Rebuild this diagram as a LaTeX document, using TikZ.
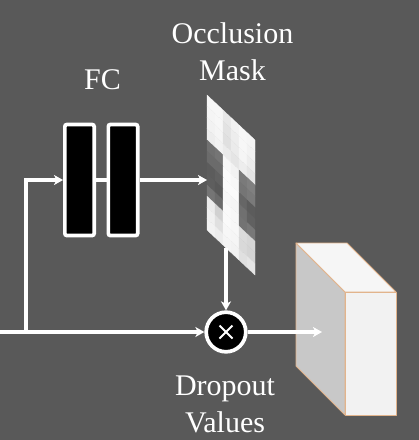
\documentclass[tikz,border=0pt]{standalone}
\usepackage{fontspec}
\setmainfont{Liberation Serif}
\usetikzlibrary{arrows.meta}
\definecolor{bg}{RGB}{89,89,89}
\definecolor{cubeedge}{RGB}{226,180,140}
\definecolor{cubefront}{RGB}{242,242,242}
\definecolor{cubetop}{RGB}{246,246,246}
\definecolor{cubeside}{RGB}{200,200,200}
\tikzset{
  wire/.style={draw=white, line width=3.3pt},
  arr/.style={-{Stealth[length=9pt,width=10pt,inset=2.5pt]}},
  fcbox/.style={draw=white, fill=black, line width=3.7pt, rounded corners=2pt,
    minimum width=29.3pt, minimum height=111pt, inner sep=0pt},
  lbl/.style={text=white, font=\fontsize{30}{37}\selectfont, anchor=base, inner sep=0pt},
  cubeface/.style={draw=cubeedge, line width=0.8pt, line join=round}
}
\begin{document}
\begin{tikzpicture}[x=1pt,y=-1pt]
\useasboundingbox (0,0) rectangle (419,440);
\fill[bg] (0,0) rectangle (419,440);

% occlusion mask
\foreach \j/\row in {
  0/{97,97,91,95,97,96},
  1/{96,97,89,93,97,95},
  2/{95,96,88,92,96,93},
  3/{93,95,92,90,93,90},
  4/{44,46,97,95,48,50},
  5/{42,42,98,97,46,48},
  6/{36,38,98,98,40,36},
  7/{37,35,97,96,44,38},
  8/{46,42,98,97,45,47},
  9/{92,82,98,97,86,84},
  10/{94,88,97,96,85,83},
  11/{95,93,96,95,88,90}}{
  \foreach \v [count=\i from 0] in \row {
    \filldraw[fill=white!\v!black, draw=white!\v!black, line width=0.3pt]
      ({207+8*\i},{95+11.25*\j+7.5*\i}) -- ++(8,7.5) -- ++(0,11.25) -- ++(-8,-7.5) -- cycle;
  }
}
\coordinate (maskin) at (207,180);
\coordinate (maskout) at (226,247.8);

% FC layers
\node[fcbox] (fc1) at (79.5,180) {};
\node[fcbox] (fc2) at (123,180) {};

% multiply node
\node[circle, draw=white, fill=black, line width=3.7pt, minimum size=39.6pt, inner sep=0pt] (mul) at (226,332) {};
\draw[white, line width=2pt] (mul.center) ++(-6.5,-6.5) -- ++(13,13);
\draw[white, line width=2pt] (mul.center) ++(6.5,-6.5) -- ++(-13,13);

% cube
\filldraw[cubeface, fill=cubeside] (296,243) -- (345,292) -- (345,415) -- (296,366) -- cycle;
\filldraw[cubeface, fill=cubetop] (296,243) -- (347,243) -- (396,292) -- (345,292) -- cycle;
\filldraw[cubeface, fill=cubefront] (345,292) rectangle (396,415);
\coordinate (cubein) at (322,332);

% connectors
\coordinate (in) at (0,332);
\coordinate (br) at (26,332);
\draw[wire, arr] (in) -- (mul.west);
\draw[wire, arr] (br) |- (fc1.west);
\draw[wire] (fc1.east) -- (fc2.west);
\draw[wire, arr] (fc2.east) -- (maskin);
\draw[wire, arr] (maskout) -- (mul.north);
\draw[wire, arr] (mul.east) -- (cubein);

% labels
\node[lbl] (t1) at (232.5,43) {Occlusion};
\node[lbl] (t2) at (232.5,80) {Mask};
\node[lbl] (t3) at (102.5,89) {FC};
\node[lbl] (t4) at (225,395) {Dropout};
\node[lbl] (t5) at (225,432) {Values};
\end{tikzpicture}
\end{document}
